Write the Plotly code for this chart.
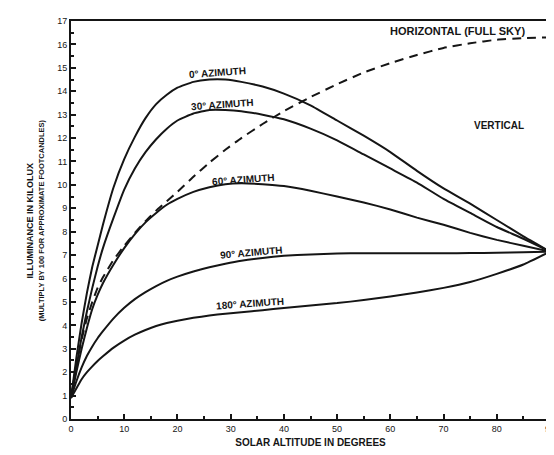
import plotly.graph_objects as go

altitude = [0, 1, 2, 3, 4, 5, 6, 8, 10, 12, 14, 16, 18, 20, 23, 26, 29, 32, 36, 40, 45, 50, 55, 60, 65, 70, 75, 80, 85, 90]

az0 = [0.9, 2.6, 4.1, 5.4, 6.5, 7.4, 8.3, 9.9, 11.1, 12.05, 12.85, 13.45, 13.85, 14.15, 14.4, 14.5, 14.5, 14.4, 14.2, 13.9, 13.4, 12.75, 12.1, 11.4, 10.6, 9.85, 9.2, 8.5, 7.8, 7.15]
az30 = [0.9, 2.2, 3.5, 4.6, 5.6, 6.5, 7.3, 8.6, 9.8, 10.7, 11.4, 11.95, 12.4, 12.75, 13.05, 13.2, 13.2, 13.15, 13.0, 12.8, 12.4, 11.9, 11.3, 10.7, 10.1, 9.4, 8.8, 8.2, 7.7, 7.15]
az60 = [0.9, 2.0, 3.0, 3.9, 4.7, 5.3, 5.8, 6.6, 7.3, 7.9, 8.4, 8.8, 9.15, 9.4, 9.7, 9.9, 10.03, 10.07, 10.03, 9.95, 9.75, 9.5, 9.25, 8.95, 8.6, 8.3, 7.95, 7.65, 7.4, 7.15]
az90 = [0.9, 1.6, 2.2, 2.7, 3.1, 3.45, 3.75, 4.3, 4.75, 5.12, 5.42, 5.68, 5.9, 6.08, 6.3, 6.48, 6.63, 6.76, 6.88, 6.97, 7.03, 7.07, 7.08, 7.08, 7.08, 7.08, 7.09, 7.1, 7.12, 7.15]
az180 = [0.9, 1.3, 1.7, 2.0, 2.25, 2.48, 2.68, 3.05, 3.35, 3.6, 3.8, 3.97, 4.1, 4.2, 4.32, 4.42, 4.5, 4.56, 4.65, 4.74, 4.85, 4.95, 5.08, 5.23, 5.4, 5.6, 5.85, 6.2, 6.6, 7.15]
horizontal = [0.9, 2.3, 3.4, 4.3, 5.0, 5.6, 6.05, 6.8, 7.4, 7.95, 8.45, 8.9, 9.3, 9.7, 10.35, 10.95, 11.5, 12.0, 12.6, 13.15, 13.75, 14.3, 14.8, 15.2, 15.55, 15.85, 16.05, 16.2, 16.27, 16.3]

x_ticks = [0, 10, 20, 30, 40, 50, 60, 70, 80, 90]
y_ticks = list(range(0, 18))

curve_labels = ["0° AZIMUTH", "30° AZIMUTH", "60° AZIMUTH", "90° AZIMUTH", "180° AZIMUTH"]
label_x = [27.5, 28.5, 32.4, 34.0, 33.7]
label_y = [14.8, 13.45, 10.25, 7.1, 4.95]
label_angle = [-4, -4, -4, -5, -4]

INK = "#151515"
FONT = "Liberation Sans, Arial, sans-serif"

fig = go.Figure()
for ys in [az0, az30, az60, az90, az180]:
    fig.add_trace(go.Scatter(x=altitude, y=ys, mode="lines",
                             line=dict(color=INK, width=2, shape="spline", smoothing=0.4),
                             showlegend=False, hoverinfo="skip"))
fig.add_trace(go.Scatter(x=altitude, y=horizontal, mode="lines",
                         line=dict(color=INK, width=2, dash="9px,6px", shape="spline", smoothing=0.4),
                         showlegend=False, hoverinfo="skip"))

annotations = []
for t, xv, yv, a in zip(curve_labels, label_x, label_y, label_angle):
    annotations.append(dict(x=xv, y=yv, text="<b>" + t + "</b>", showarrow=False,
                            textangle=a, font=dict(family=FONT, size=10, color=INK)))
annotations.append(dict(x=72.6, y=16.57, text="<b>HORIZONTAL (FULL SKY)</b>", showarrow=False,
                        font=dict(family=FONT, size=11, color=INK)))
annotations.append(dict(x=80.4, y=12.55, text="<b>VERTICAL</b>", showarrow=False,
                        font=dict(family=FONT, size=10, color=INK)))
annotations.append(dict(xref="paper", yref="paper", x=(22 - 63) / 484, y=0.5,
                        xanchor="center", yanchor="middle",
                        text="<b>ILLUMINANCE IN KILOLUX</b>", showarrow=False, textangle=-90,
                        font=dict(family=FONT, size=9, color=INK)))
annotations.append(dict(xref="paper", yref="paper", x=(33 - 63) / 484, y=0.5,
                        xanchor="center", yanchor="middle",
                        text="<b>(MULTIPLY BY 100 FOR APPROXIMATE FOOTCANDLES)</b>", showarrow=False,
                        textangle=-90, font=dict(family=FONT, size=7.5, color=INK)))

fig.update_layout(
    width=554, height=455,
    margin=dict(l=63, r=7, t=13, b=44),
    paper_bgcolor="white", plot_bgcolor="white",
    annotations=annotations,
    xaxis=dict(range=[0, 90], tickvals=x_ticks, ticktext=[str(v) for v in x_ticks],
               ticks="inside", ticklen=5, tickwidth=1.5, tickcolor=INK,
               minor=dict(dtick=5, ticks="inside", ticklen=3, tickcolor=INK),
               showline=True, linecolor=INK, linewidth=2, mirror=True,
               showgrid=False, zeroline=False,
               tickfont=dict(family=FONT, size=9, color=INK),
               title=dict(text="<b>SOLAR ALTITUDE IN DEGREES</b>", standoff=6,
                          font=dict(family=FONT, size=10, color=INK))),
    yaxis=dict(range=[0, 17], tickvals=y_ticks, ticktext=[str(v) for v in y_ticks],
               ticks="inside", ticklen=5, tickwidth=1.5, tickcolor=INK,
               minor=dict(dtick=0.5, ticks="inside", ticklen=3, tickcolor=INK),
               showline=True, linecolor=INK, linewidth=2, mirror=True,
               showgrid=False, zeroline=False,
               tickfont=dict(family=FONT, size=9, color=INK)),
)

fig.write_html("out.html")
